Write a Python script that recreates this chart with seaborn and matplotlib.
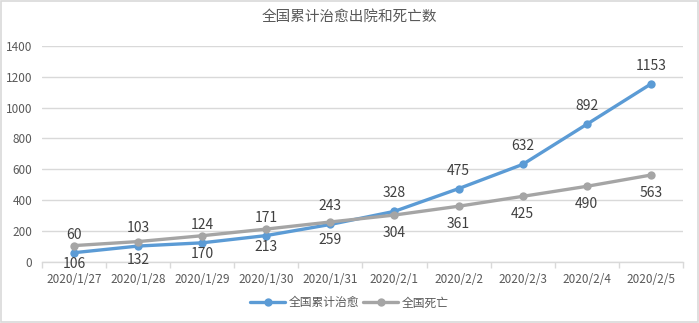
import matplotlib
matplotlib.use("Agg")
import matplotlib.pyplot as plt
import seaborn as sns
import pandas as pd
import numpy as np
from matplotlib.patches import Rectangle

dates = ["2020/1/27", "2020/1/28", "2020/1/29", "2020/1/30", "2020/1/31",
         "2020/2/1", "2020/2/2", "2020/2/3", "2020/2/4", "2020/2/5"]
cured = [60, 103, 124, 171, 243, 328, 475, 632, 892, 1153]
deaths = [106, 132, 170, 213, 259, 304, 361, 425, 490, 563]
series_names = ["全国累计治愈", "全国死亡"]
title = "全国累计治愈出院和死亡数"

sns.set_theme(style="white")
plt.rcParams["font.family"] = ["Noto Sans CJK SC", "DejaVu Sans"]

text_color = "#595959"
grid_color = "#D9D9D9"
palette = {series_names[0]: "#5B9BD5", series_names[1]: "#A5A5A5"}

df = pd.DataFrame({
    "date": dates * 2,
    "value": cured + deaths,
    "series": [series_names[0]] * len(dates) + [series_names[1]] * len(dates),
})

fig = plt.figure(figsize=(6.99, 3.23), dpi=100)
ax = fig.add_axes([0.060, 0.189, 0.917, 0.669])

sns.lineplot(data=df, x="date", y="value", hue="series", palette=palette,
             marker="o", markersize=6, markeredgewidth=0, linewidth=2.4,
             sort=False, ax=ax)

# value labels: cured above the point, deaths below
for i, v in enumerate(cured):
    ax.annotate(str(v), (i, v), xytext=(0, 13), textcoords="offset points",
                ha="center", va="center", fontsize=10, color="#404040")
for i, v in enumerate(deaths):
    ax.annotate(str(v), (i, v), xytext=(0, -13), textcoords="offset points",
                ha="center", va="center", fontsize=10, color="#404040")

ax.set_xlim(-0.5, len(dates) - 0.5)
ax.set_ylim(0, 1400)
ax.set_yticks(np.arange(0, 1401, 200))
ax.yaxis.grid(True, color=grid_color, linewidth=1)
ax.set_axisbelow(True)
for side in ["top", "right", "left"]:
    ax.spines[side].set_visible(False)
ax.spines["bottom"].set_color(grid_color)
ax.spines["bottom"].set_linewidth(1)

ax.set_xticks(range(len(dates)))
ax.set_xticklabels(dates)
ax.set_xticks(np.arange(-0.5, len(dates), 1.0), minor=True)
ax.tick_params(axis="x", which="major", length=0, pad=8, labelsize=8.5, labelcolor=text_color)
ax.tick_params(axis="x", which="minor", length=4, color=grid_color, width=1, bottom=True)
ax.tick_params(axis="y", length=0, pad=7, labelsize=8.5, labelcolor=text_color)
ax.set_xlabel("")
ax.set_ylabel("")

ax.legend_.remove()
handles, labels = ax.get_legend_handles_labels()
fig.legend(handles, labels, loc="center", bbox_to_anchor=(0.5, 0.062), ncol=2,
           frameon=False, fontsize=8.5, labelcolor=text_color, handlelength=3,
           columnspacing=0.3, handletextpad=0.3)

fig.text(0.5, 0.944, title, ha="center", va="center", fontsize=10.5, color=text_color)

fig.patches.append(Rectangle((0.001, 0.002), 0.997, 0.995, transform=fig.transFigure,
                             fill=False, edgecolor=grid_color, linewidth=1.2))

fig.savefig("out.png", dpi=100)
